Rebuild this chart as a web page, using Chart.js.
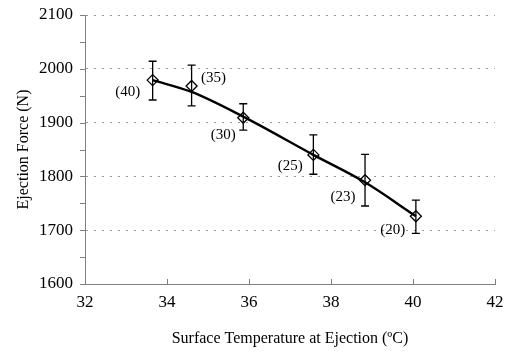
<!DOCTYPE html>
<html><head><meta charset="utf-8">
<script src="https://cdn.jsdelivr.net/npm/chart.js@4"></script>
<style>html,body{margin:0;padding:0;background:#fff}#w{width:505px;height:352px}</style>
</head><body><div id="w"><canvas id="c"></canvas></div>
<script>
const temps = [33.65, 34.60, 35.86, 37.57, 38.83, 40.07];
const forces = [1979, 1968, 1909, 1840, 1793, 1726];
const fitForces = [1979, 1957, 1911, 1840, 1789, 1726];
const errHigh = [2014, 2007, 1935, 1877, 1841, 1756];
const errLow = [1942, 1931, 1886, 1804, 1745, 1694];
const pointLabels = ['(40)', '(35)', '(30)', '(25)', '(23)', '(20)'];
const xTicks = [32, 34, 36, 38, 40, 42];
const yTicks = [1600, 1700, 1800, 1900, 2000, 2100];

const labelOffsets = [[-25, 12], [22, -8], [-20, 17], [-23, 11], [-22, 17], [-23, 14]];
const axisColor = '#808080';
const fontFam = '"Liberation Serif", "DejaVu Serif", serif';

const extras = {
  id: 'extras',
  afterDatasetsDraw(chart) {
    const ctx = chart.ctx, xs = chart.scales.x, ys = chart.scales.y;
    ctx.save();
    ctx.strokeStyle = '#000'; ctx.lineWidth = 1.3;
    temps.forEach((t, i) => {
      const px = xs.getPixelForValue(t);
      const top = ys.getPixelForValue(errHigh[i]);
      const bot = ys.getPixelForValue(errLow[i]);
      ctx.beginPath();
      ctx.moveTo(px, top); ctx.lineTo(px, bot);
      ctx.moveTo(px - 4, top); ctx.lineTo(px + 4, top);
      ctx.moveTo(px - 4, bot); ctx.lineTo(px + 4, bot);
      ctx.stroke();
    });
    ctx.fillStyle = '#000'; ctx.font = '15px ' + fontFam;
    ctx.textAlign = 'center'; ctx.textBaseline = 'middle';
    temps.forEach((t, i) => {
      const px = xs.getPixelForValue(t), py = ys.getPixelForValue(forces[i]);
      ctx.fillText(pointLabels[i], px + labelOffsets[i][0], py + labelOffsets[i][1]);
    });
    ctx.strokeStyle = axisColor; ctx.lineWidth = 1;
    const yb = ys.bottom, xl = xs.left;
    xTicks.forEach(v => {
      const px = Math.round(xs.getPixelForValue(v)) + 0.5;
      ctx.beginPath(); ctx.moveTo(px, yb); ctx.lineTo(px, yb - 5); ctx.stroke();
    });
    for (let v = 1600; v <= 2100; v += 50) {
      const py = Math.round(ys.getPixelForValue(v)) + 0.5;
      ctx.beginPath(); ctx.moveTo(xl, py); ctx.lineTo(xl - 5, py); ctx.stroke();
    }
    ctx.restore();
  }
};

new Chart(document.getElementById('c'), {
  type: 'scatter',
  data: {
    datasets: [{
      data: temps.map((t, i) => ({x: t, y: fitForces[i]})),
      showLine: true,
      borderColor: '#000',
      borderWidth: 2.4,
      cubicInterpolationMode: 'monotone',
      pointRadius: 0
    }, {
      data: temps.map((t, i) => ({x: t, y: forces[i]})),
      showLine: false,
      pointStyle: 'rectRot',
      pointRadius: 5.5,
      pointBackgroundColor: 'rgba(255,255,255,0)',
      pointBorderColor: '#000',
      pointBorderWidth: 1.3
    }]
  },
  options: {
    responsive: true, maintainAspectRatio: false, animation: false,
    layout: {padding: {top: 15, right: 10, left: 0, bottom: 0}},
    plugins: {legend: {display: false}, tooltip: {enabled: false}},
    scales: {
      x: {
        type: 'linear', min: 32, max: 42,
        afterBuildTicks: s => { s.ticks = xTicks.map(v => ({value: v})); },
        afterFit: s => { s.height = 68; s.paddingRight = 0; s.paddingLeft = 0; },
        grid: {display: false, drawTicks: false},
        border: {color: axisColor, width: 1},
        ticks: {color: '#000', padding: 8, font: {family: fontFam, size: 17}, maxRotation: 0,
                callback: v => String(v)},
        title: {display: true, text: 'Surface Temperature at Ejection (ºC)', color: '#000',
                font: {family: fontFam, size: 16}, padding: {top: 8}}
      },
      y: {
        min: 1600, max: 2100,
        afterBuildTicks: s => { s.ticks = yTicks.map(v => ({value: v})); },
        afterFit: s => { s.width = 85; s.paddingTop = 0; s.paddingBottom = 0; },
        grid: {color: '#999', drawTicks: false, lineWidth: 1},
        border: {color: axisColor, width: 1, dash: [2, 6]},
        ticks: {color: '#000', padding: 12, font: {family: fontFam, size: 17},
                callback: v => String(v)},
        title: {display: true, text: 'Ejection Force (N)', color: '#000',
                font: {family: fontFam, size: 16}, padding: {top: 14, bottom: 4}}
      }
    }
  },
  plugins: [extras]
});
</script></body></html>
